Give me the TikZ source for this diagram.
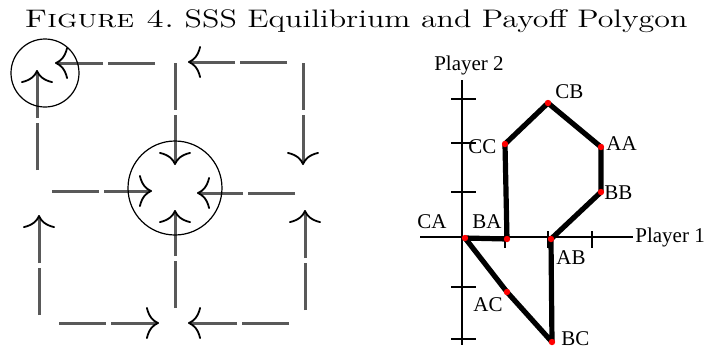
\documentclass[tikz,border=0pt]{standalone}
\usepackage{fontspec}
\newfontfamily\labelfont{Liberation Serif}
\usetikzlibrary{arrows.meta}

\begin{document}
\begin{tikzpicture}[x=0.5pt, y=-0.5pt,
  flow/.style={black!65, line width=1.5pt, dash pattern=on 23.5pt off 2.5pt,
    -{Computer Modern Rightarrow[length=6.5pt,width=16pt,line width=0.9pt,black]}},
  ring/.style={black, line width=0.6pt},
  edge/.style={line width=2.6pt, line cap=round, line join=round},
  axis/.style={black, line width=0.6pt},
  dot/.style={red, fill=red},
  lbl/.style={font=\labelfont\fontsize{10.5}{10.5}\selectfont, inner sep=0pt}]
  \useasboundingbox (0,0) rectangle (709,350);

  % 标题
  \node[anchor=base, font=\fontsize{12.7}{12.7}\selectfont, inner sep=0pt] (title) at (356,27)
    {\scalebox{1.26}[1]{\textsc{Figure 4.}\ SSS Equilibrium and Payoff Polygon}};

  % 左图：相图的端点
  \coordinate (t1) at (155,63);  \coordinate (h1) at (55,63);
  \coordinate (t2) at (287,62);  \coordinate (h2) at (188,62);
  \coordinate (t3) at (175,63);  \coordinate (h3) at (175,165);
  \coordinate (t4) at (303,63);  \coordinate (h4) at (303,165);
  \coordinate (t5) at (37,170);  \coordinate (h5) at (37,70);
  \coordinate (t6) at (52,191);  \coordinate (h6) at (152,191);
  \coordinate (t7) at (295,193); \coordinate (h7) at (197,193);
  \coordinate (t8) at (39,315);  \coordinate (h8) at (39,215);
  \coordinate (t9) at (175,308); \coordinate (h9) at (175,210);
  \coordinate (t10) at (305,310); \coordinate (h10) at (305,210);
  \coordinate (t11) at (59,323); \coordinate (h11) at (159,323);
  \coordinate (t12) at (289,323); \coordinate (h12) at (188,323);
  \foreach \i in {1,...,12}
    \draw[flow] (t\i) -- (h\i);

  % 两个稳定点
  \coordinate (S1) at (45,73);
  \coordinate (S2) at (175,188);
  \draw[ring] (S1) circle[radius=34];
  \draw[ring] (S2) circle[radius=47];

  % 右图：坐标轴
  \coordinate (O) at (462,237);
  \draw[axis] (462,80) -- (462,345);
  \draw[axis] (420,237) -- (633,237);
  \foreach \y in {99,143,192,287,339}
    \draw[axis] (451,\y) -- (476,\y);
  \foreach \x in {505,548,592}
    \draw[axis] (\x,231) -- (\x,248);
  \node[lbl] (p2) at (469,65) {Player 2};
  \node[lbl, anchor=west] (p1) at (635,237) {Player 1};

  % 支付点
  \coordinate (CA) at (465,238);
  \coordinate (BA) at (507,239);
  \coordinate (AB) at (551,239);
  \coordinate (BC) at (552,342);
  \coordinate (AC) at (507,292);
  \coordinate (CC) at (505,144);
  \coordinate (CB) at (548,103);
  \coordinate (AA) at (601,147);
  \coordinate (BB) at (601,192);

  \draw[edge] (CA) -- (BA) -- (CC) -- (CB) -- (AA) -- (BB) -- (AB)
    -- (BC) -- (AC) -- cycle;
  \foreach \p in {CA,BA,AB,BC,AC,CC,CB,AA,BB}
    \fill[dot] (\p) circle[radius=3.2];

  \node[lbl, anchor=west] (lCB) at (555,92) {CB};
  \node[lbl, anchor=west] (lCC) at (468,147) {CC};
  \node[lbl, anchor=west] (lAA) at (606,144) {AA};
  \node[lbl, anchor=west] (lBB) at (604,193) {BB};
  \node[lbl] (lCA) at (432,222) {CA};
  \node[lbl] (lBA) at (487,222) {BA};
  \node[lbl, anchor=west] (lAB) at (556,258) {AB};
  \node[lbl] (lAC) at (488,305) {AC};
  \node[lbl, anchor=west] (lBC) at (561,339) {BC};
\end{tikzpicture}
\end{document}
